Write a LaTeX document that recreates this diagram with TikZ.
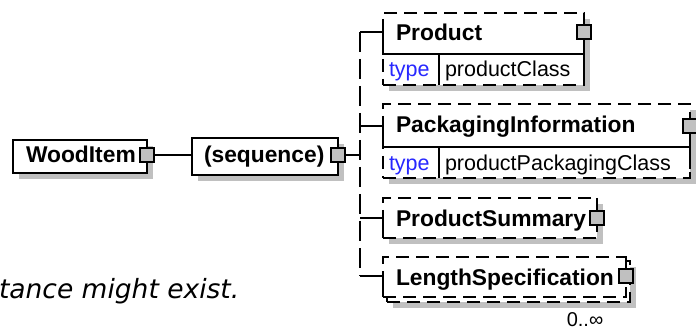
\documentclass[tikz,border=0pt]{standalone}
\usepackage{fontspec}
\setmainfont{Liberation Sans}
\newfontfamily\dejavu{DejaVu Sans}
\usetikzlibrary{calc,shadows}
\definecolor{shadowgray}{RGB}{192,192,192}
\definecolor{typeblue}{RGB}{40,40,255}
\begin{document}
\begin{tikzpicture}[x=1pt,y=-1pt,
  every node/.style={inner sep=0pt,outer sep=0pt},
  lw/.style={line width=1.6pt},
  boxsolid/.style={draw,lw,fill=white,anchor=north west,
    drop shadow={shadow xshift=6pt,shadow yshift=-6pt,fill=shadowgray,opacity=1}},
  boxdash/.style={boxsolid,dash pattern=on 13pt off 7pt},
  boxdashns/.style={draw,lw,fill=white,anchor=north west,dash pattern=on 13pt off 7pt},
  sq/.style={draw,lw,fill=shadowgray,minimum width=13.5pt,minimum height=13.5pt},
  title/.style={font=\fontsize{22.8}{27}\selectfont\bfseries,anchor=base west},
  typet/.style={font=\fontsize{21.5}{25}\selectfont,anchor=base west},
  busline/.style={lw,dash pattern=on 20pt off 7pt}]
\useasboundingbox (0,0) rectangle (696,331);
% WoodItem
\node[boxsolid,minimum width=134pt,minimum height=33pt] (wood) at (13,140) {};
\node[title] (woodt) at (26,163) {WoodItem};
\node[sq] (wsq) at (147,155) {};
% sequence
\node[boxsolid,minimum width=146pt,minimum height=37pt] (seq) at (192,138) {};
\node[title] (seqt) at (204,163) {(sequence)};
\node[sq] (ssq) at (338,155) {};
\draw[lw] (wsq.east) -- (wsq.east -| seq.west);
\coordinate (bj) at (360,155);
\draw[lw] (ssq.east) -- (bj);
% bus
\coordinate (b1) at (360,32);
\coordinate (b2) at (360,126);
\coordinate (b3) at (360,218);
\coordinate (b4) at (360,276);
\draw[busline] (b1) -- (b4);
% Product
\node[boxdash,minimum width=201pt,minimum height=72pt] (prod) at (383,13) {};
\draw[lw] (b1) -- (b1 -| prod.west) -- ($(prod.north west)+(0,41)$) -- ($(prod.north east)+(0,41)$);
\draw[lw] ($(prod.north west)+(56,41)$) -- ($(prod.south west)+(56,0)$);
\node[sq] (psq) at (b1 -| prod.east) {};
\draw[lw] (psq.south) -- (prod.south east);
\node[title] (prodt) at (396,41) {Product};
\node[typet,text=typeblue] (prodk) at (389,77) {type};
\node[typet] (prodv) at (445,77) {productClass};
% PackagingInformation
\node[boxdash,minimum width=307pt,minimum height=74pt] (pack) at (383,104) {};
\draw[lw] (b2) -- (b2 -| pack.west) -- ($(pack.north west)+(0,43)$) -- ($(pack.north east)+(0,43)$);
\draw[lw] ($(pack.north west)+(56,43)$) -- ($(pack.south west)+(56,0)$);
\node[sq] (pksq) at (b2 -| pack.east) {};
\draw[lw] (pksq.south) -- ($(pack.north east)+(0,65)$);
\node[title] (packt) at (396,133) {PackagingInformation};
\node[typet,text=typeblue] (packk) at (389,171) {type};
\node[typet] (packv) at (445,171) {productPackagingClass};
% ProductSummary
\node[boxdash,minimum width=214pt,minimum height=40pt] (ps) at (383,198) {};
\draw[lw] (b3) -- (b3 -| ps.west) -- (ps.south west);
\node[sq] (pssq) at (b3 -| ps.east) {};
\draw[lw] (ps.north east) -- (pssq.north);
\node[title] (pst) at (396,227) {ProductSummary};
% LengthSpecification
\node[boxdash,minimum width=243pt,minimum height=41pt] (lsb) at (387,261) {};
\node[boxdashns,minimum width=243pt,minimum height=40pt] (ls) at (383,257) {};
\draw[lw] (b4) -- (b4 -| ls.west) -- (ls.south west);
\node[sq] (lssq) at (b4 -| ls.east) {};
\draw[lw] (ls.north east) -- (lssq.north);
\node[title] (lst) at (396,285) {LengthSpecification};
\node[font=\fontsize{20}{24}\selectfont,anchor=base] (occ) at (585,326) {0..∞};
% text
\node[font=\dejavu\itshape\fontsize{26.5}{30}\selectfont,anchor=base west] (note) at (-1,298) {tance might exist.};
\end{tikzpicture}
\end{document}
